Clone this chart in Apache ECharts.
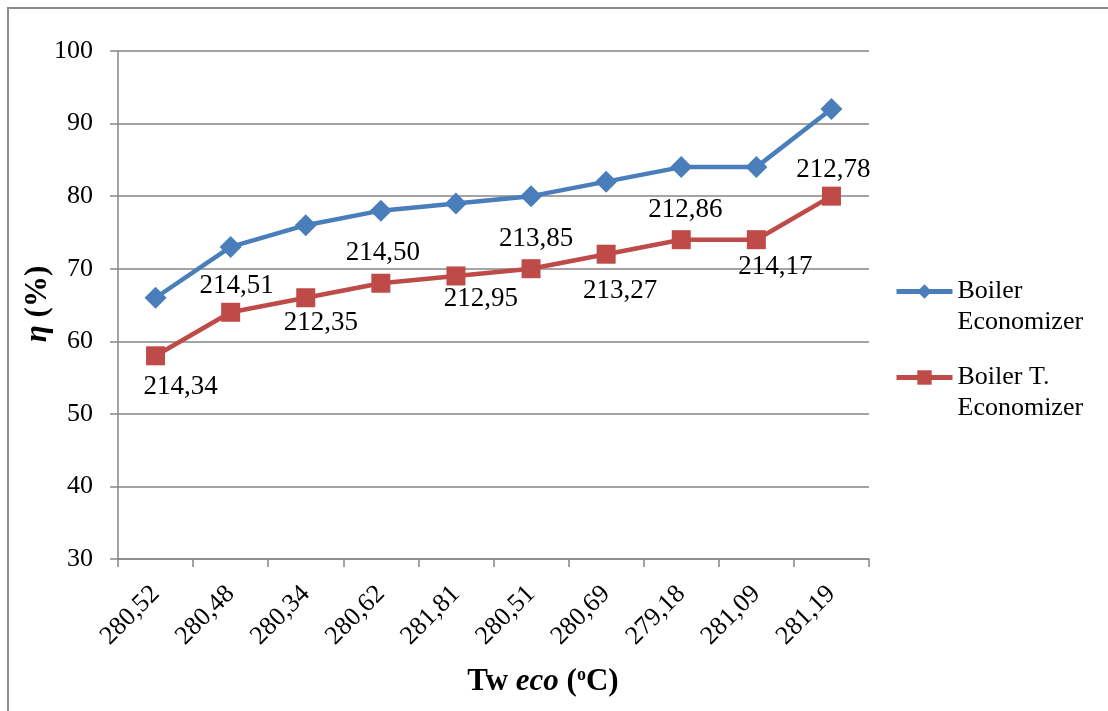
<!DOCTYPE html>
<html>
<head>
<meta charset="utf-8">
<script src="https://cdn.jsdelivr.net/npm/echarts@6/dist/echarts.min.js"></script>
<style>
  html, body { margin: 0; padding: 0; background: #fff; }
  #chart { width: 1108px; height: 711px; }
</style>
</head>
<body>
<div id="chart"></div>
<script>
// Feed water temperature at economizer outlet (category labels)
const categories = ['280,52', '280,48', '280,34', '280,62', '281,81', '280,51', '280,69', '279,18', '281,09', '281,19'];
// Efficiency (%) of each configuration
const boilerEconomizer = [66, 73, 76, 78, 79, 80, 82, 84, 84, 92];
const boilerTEconomizer = [58, 64, 66, 68, 69, 70, 72, 74, 74, 80];
// Labels written beside the second series' points
const tEcoLabels = ['214,34', '214,51', '212,35', '214,50', '212,95', '213,85', '213,27', '212,86', '214,17', '212,78'];

const FONT = '"Liberation Serif", "Times New Roman", serif';
const GRAY = '#868686';
const BLUE = '#4A7EBB';
const RED = '#BE4B48';

// Placement of each point label, in pixels from the marker centre
const labelOffsets = [
  [25, 31], [6, -26], [15, 25], [2, -30], [25, 23],
  [5, -30], [14, 37], [4, -30], [19, 27], [2, -26]
];

const redData = boilerTEconomizer.map((v, i) => ({
  value: v,
  label: {
    show: true,
    formatter: tEcoLabels[i],
    position: 'inside',
    offset: labelOffsets[i]
  }
}));

const chart = echarts.init(document.getElementById('chart'));
chart.setOption({
  backgroundColor: '#fff',
  animation: false,
  textStyle: { fontFamily: FONT },
  graphic: [
    {
      type: 'rect',
      shape: { x: 8, y: 8, width: 1300, height: 900 },
      style: { fill: 'none', stroke: '#8c8c8c', lineWidth: 2 },
      silent: true
    },
    {
      // x-axis title
      type: 'text',
      x: 543,
      y: 682,
      style: {
        text: '{b|Tw }{bi|eco}{b| (}{s|o}{b|C)}',
        align: 'center',
        verticalAlign: 'middle',
        rich: {
          b: { fontFamily: FONT, fontSize: 31, fontWeight: 'bold', fill: '#000' },
          bi: { fontFamily: FONT, fontSize: 31, fontWeight: 'bold', fontStyle: 'italic', fill: '#000' },
          s: { fontFamily: FONT, fontSize: 18, fontWeight: 'bold', fill: '#000', verticalAlign: 'top', padding: [0, 0, 12, 0] }
        }
      },
      silent: true
    },
    {
      // y-axis title
      type: 'text',
      x: 38,
      y: 304,
      rotation: Math.PI / 2,
      style: {
        text: '{i|η}{b| (%)}',
        align: 'center',
        verticalAlign: 'middle',
        rich: {
          i: { fontFamily: FONT, fontSize: 31, fontWeight: 'bold', fontStyle: 'italic', fill: '#000' },
          b: { fontFamily: FONT, fontSize: 31, fontWeight: 'bold', fill: '#000' }
        }
      },
      silent: true
    }
  ],
  grid: { left: 118, right: 239, top: 51, bottom: 152 },
  legend: {
    orient: 'vertical',
    left: 889,
    top: 240,
    itemGap: -7,
    itemWidth: 56,
    itemHeight: 18,
    lineStyle: { width: 5 },
    // a blank first line keeps the marker level with the first line of text
    formatter: name => '\n' + name,
    textStyle: {
      fontFamily: FONT,
      fontSize: 26,
      color: '#000',
      lineHeight: 31
    },
    data: ['Boiler\nEconomizer', 'Boiler T.\nEconomizer']
  },
  xAxis: {
    type: 'category',
    data: categories,
    boundaryGap: true,
    axisLine: { lineStyle: { color: GRAY, width: 1.5 } },
    axisTick: { show: true, length: 8, lineStyle: { color: GRAY, width: 1.5 } },
    axisLabel: {
      rotate: 45,
      margin: 31,
      fontFamily: FONT,
      fontSize: 26,
      color: '#000'
    },
    splitLine: { show: false }
  },
  yAxis: {
    type: 'value',
    min: 30,
    max: 100,
    interval: 10,
    axisLine: { show: true, lineStyle: { color: GRAY, width: 1.5 } },
    axisTick: { show: true, length: 8, lineStyle: { color: GRAY, width: 1.5 } },
    axisLabel: { margin: 25, fontFamily: FONT, fontSize: 26, color: '#000' },
    splitLine: { lineStyle: { color: GRAY, width: 1.5 } }
  },
  series: [
    {
      name: 'Boiler\nEconomizer',
      type: 'line',
      data: boilerEconomizer,
      symbol: 'diamond',
      symbolSize: 22,
      lineStyle: { color: BLUE, width: 4.5 },
      itemStyle: { color: BLUE },
      z: 3
    },
    {
      name: 'Boiler T.\nEconomizer',
      type: 'line',
      data: redData,
      symbol: 'rect',
      symbolSize: 19,
      lineStyle: { color: RED, width: 4.5 },
      itemStyle: { color: RED },
      label: {
        fontFamily: FONT,
        fontSize: 27,
        color: '#000'
      },
      z: 4
    }
  ]
});
</script>
</body>
</html>
